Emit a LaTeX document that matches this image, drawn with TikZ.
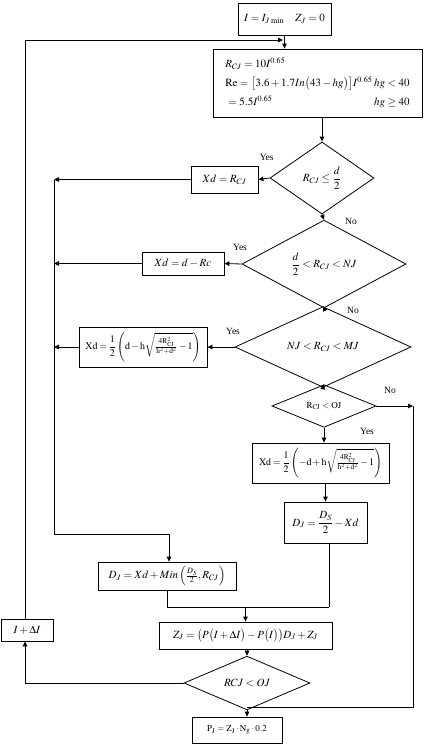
\documentclass[tikz,border=0pt]{standalone}
\usepackage{amsmath}
\usepackage{mathptmx}
\usepackage{fontspec}
\setmainfont{Liberation Serif}
\usetikzlibrary{shapes.geometric,arrows.meta}
\newcommand{\tightmath}{\medmuskip=2mu plus 1mu\thickmuskip=3mu plus 1mu}
\begin{document}
\begin{tikzpicture}[x=1pt,y=-1pt,
  box/.style={draw, line width=0.8pt, inner sep=1pt, font=\fontsize{11}{13}\selectfont},
  dia/.style={draw, diamond, line width=0.8pt, inner sep=0pt, font=\fontsize{11}{13}\selectfont},
  arr/.style={-{Triangle[length=5pt,width=4.5pt]}, line width=0.8pt},
  ln/.style={line width=0.8pt},
  lab/.style={font=\fontsize{9.5}{10}\selectfont, inner sep=0pt}]
\useasboundingbox (0,0) rectangle (425,744);
% nodes
\node[box, minimum width=93pt, minimum height=32pt] (top) at (284.5,19) {$I=I_{J\,\min}\quad Z_J=0$};
\node[box, minimum width=209pt, minimum height=68pt] (box2) at (317.5,83)
 {\def\arraystretch{1.45}\begin{tabular}{@{}l@{\,}r@{}}
  $R_{CJ}=10I^{0.65}$ & \\
  $\mathrm{Re}=\bigl[3.6+1.7In\bigl(43-hg\bigr)\bigr]I^{0.65}$ & $hg<40$\\
  \hspace{3pt}$=5.5I^{0.65}$ & $hg\ge 40$
 \end{tabular}};
\node[dia, minimum width=104pt, minimum height=72pt] (d1) at (322,178) {$R_{CJ}\le\dfrac{d}{2}$};
\node[box, minimum width=67pt, minimum height=27pt] (b1) at (224.5,179.5) {$Xd=R_{CJ}$};
\node[dia, minimum width=164pt, minimum height=72pt] (d2) at (324,264) {$\dfrac{d}{2}<R_{CJ}<NJ$};
\node[box, minimum width=82pt, minimum height=23pt] (b2) at (183,263.5) {$Xd=d-Rc$};
\node[dia, minimum width=176pt, minimum height=46pt] (d3) at (323,347) {$NJ<R_{CJ}<MJ$};
\node[box, minimum width=128pt, minimum height=40pt, font=\fontsize{10}{12}\selectfont] (b3) at (143,347)
 {$\tightmath\displaystyle\mathrm{Xd}=\frac{1}{2}\left(\mathrm{d}-\mathrm{h}\sqrt{\tfrac{4\mathrm{R}_{\mathrm{CJ}}^{2}}{\mathrm{h}^{2}+\mathrm{d}^{2}}-1}\right)$};
\node[dia, minimum width=104pt, minimum height=40pt, font=\fontsize{9}{11}\selectfont] (d4) at (324,406) {$\mathrm{R_{CJ}<OJ}$};
\node[box, minimum width=137pt, minimum height=40pt, font=\fontsize{10}{12}\selectfont] (b4) at (320.5,463)
 {$\tightmath\displaystyle\mathrm{Xd}=\frac{1}{2}\left(-\mathrm{d}+\mathrm{h}\sqrt{\tfrac{4\mathrm{R}_{\mathrm{CJ}}^{2}}{\mathrm{h}^{2}+\mathrm{d}^{2}}-1}\right)$};
\node[box, minimum width=83pt, minimum height=41pt] (b5) at (325.5,522.5) {$D_J=\dfrac{D_S}{2}-Xd$};
\node[box, minimum width=138pt, minimum height=28pt] (b6) at (167,576) {$D_J=Xd+Min\left(\frac{D_S}{2},R_{CJ}\right)$};
\node[box, minimum width=173pt, minimum height=27pt] (b7) at (245.5,635.5) {$Z_J=\bigl(P\bigl(I+\Delta I\bigr)-P\bigl(I\bigr)\bigr)D_J+Z_J$};
\node[dia, minimum width=126pt, minimum height=38pt] (d5) at (247,683) {$RCJ<OJ$};
\node[box, minimum width=52pt, minimum height=22pt] (b8) at (27,630) {$I+\Delta I$};
\node[box, minimum width=90pt, minimum height=26pt, font=\fontsize{9}{11}\selectfont] (b9) at (237,730) {$\mathrm{P_J=Z_J\cdot N_g\cdot 0.2}$};
% labels
\node[lab] (y1) at (266.7,157) {Yes};
\node[lab] (n1) at (351,221) {No};
\node[lab] (y2) at (240,247) {Yes};
\node[lab] (n2) at (353,310) {No};
\node[lab] (y3) at (233,331) {Yes};
\node[lab] (n3) at (390,390) {No};
\node[lab] (y4) at (367,431) {Yes};
% helper coordinates
\coordinate (L1) at (54,179.5);
\coordinate (L2) at (54,263.5);
\coordinate (L3) at (54,347);
\coordinate (Lb) at (54,534);
\coordinate (Lc) at (169,534);
\coordinate (R1) at (413,406);
\coordinate (R2) at (413,707);
\coordinate (J1) at (245.5,607);
\coordinate (J2) at (329,607);
\coordinate (K1) at (25,683);
\coordinate (K2) at (25,40);
\coordinate (K3) at (283,40);
% connectors
\draw[arr] (top.south) -- (top.south |- box2.north);
\draw[arr] (d1.north |- box2.south) -- (d1.north);
\draw[arr] (d1.west) -- (b1.east);
\draw[arr] (b1.west) -- (L1);
\draw[arr] (d1.south) -- (d2.north);
\draw[arr] (d2.west) -- (b2.east);
\draw[arr] (b2.west) -- (L2);
\draw[arr] (d2.south) -- (d3.north);
\draw[arr] (d3.west) -- (b3.east);
\draw[arr] (b3.west) -- (L3);
\draw[arr] (d3.south) -- (d4.north);
\draw[arr] (d4.east) -- (R1);
\draw[arr] (d4.south) -- (d4.south |- b4.north);
\draw[arr] (b5.north |- b4.south) -- (b5.north);
\draw[ln] (L1) -- (Lb) -- (Lc);
\draw[arr] (Lc) -- (Lc |- b6.north);
\draw[ln] (J2 |- b5.south) -- (J2);
\draw[ln] (b6.south) -- (b6.south |- J1) -- (J2);
\draw[arr] (J1) -- (J1 |- b7.north);
\draw[arr] (d5.north |- b7.south) -- (d5.north);
\draw[ln] (d5.west) -- (K1);
\draw[arr] (K1) -- (b8.south -| K1);
\draw[ln] (b8.north -| K2) -- (K2);
\draw[arr] (K2) -- (K3);
\draw[ln] (R1) -- (R2) -- (R2 -| d5.south);
\draw[arr] (d5.south) -- (d5.south |- b9.north);
\end{tikzpicture}
\end{document}
